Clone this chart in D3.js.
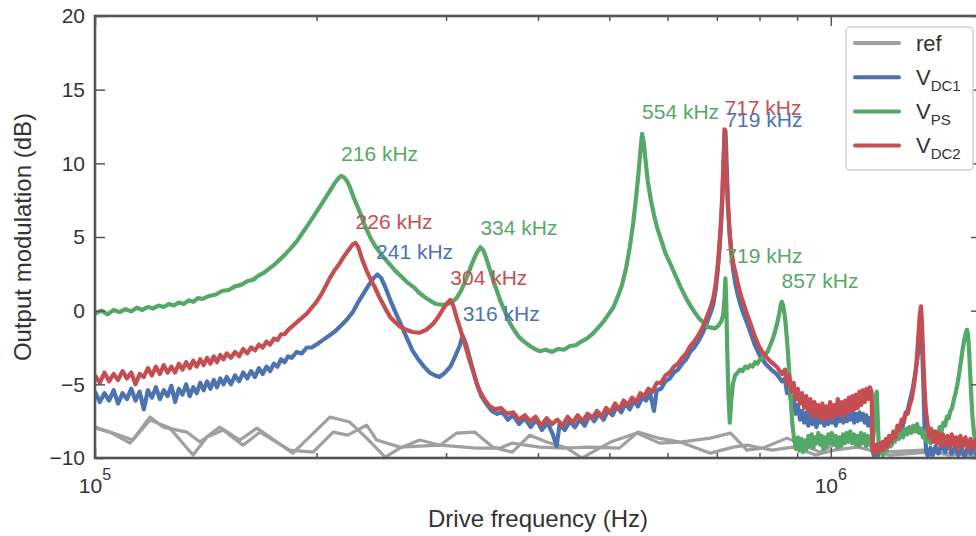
<!DOCTYPE html>
<html>
<head>
<meta charset="UTF-8">
<title>Output modulation</title>
<script src="https://cdn.jsdelivr.net/npm/d3@7"></script>
<style>
  body { margin: 0; background: #fff; }
  text { font-family: "Liberation Sans", Arial, sans-serif; }
</style>
</head>
<body>
<svg id="chart"></svg>
<script>
// [frequency kHz, dB]
var refA = [[100,-7.9],[104.8,-8.24],[111.6,-8.99],[118.8,-7.22],[123.7,-7.9],[133.3,-8.24],[138.9,-8.92],[147.7,-7.9],[157.4,-8.78],[166,-7.97],[176.7,-8.92],[185.7,-9.67],[208.6,-7.22],[221.9,-7.56],[234,-8.65],[248,-9.94],[259.6,-9.33],[276.3,-8.78],[294.4,-9.13],[310,-8.31],[328,-8.24],[347,-9.26],[369,-9.6],[390,-8.45],[411,-8.92],[438,-9.33],[459,-10.0],[502,-8.92],[545,-8.31],[585,-8.99],[624,-8.92],[686,-8.65],[731,-8.31],[769,-9.47],[808,-9.33],[872,-8.65],[967,-9.6],[1009,-9.13],[1088,-8.65],[1166,-9.6],[1333,-9.47],[1451,-9.8],[1600,-9.6]];
var refB = [[100,-7.97],[105.8,-8.31],[112.6,-8.78],[118.8,-7.42],[126.4,-7.97],[135.9,-9.8],[142,-8.58],[149.3,-8.1],[158.9,-9.13],[167.6,-8.24],[183.9,-9.47],[197.9,-9.6],[210.7,-8.24],[220.5,-8.45],[234,-7.77],[241.5,-8.78],[259.6,-9.26],[294.4,-9.13],[330,-9.33],[355,-9.33],[369,-8.99],[402,-9.26],[433,-9.33],[470,-9.26],[516,-9.33],[547,-8.24],[583,-8.65],[624,-8.92],[686,-9.67],[737,-9.26],[769,-9.13],[832,-9.47],[888,-9.26],[954,-9.8],[1009,-9.47],[1088,-9.26],[1201,-9.8],[1360,-9.6],[1600,-9.87]];

var vdc1 = [[100,-5.5],[101.5,-6.2],[103,-5.6],[104.5,-6.1],[106,-5.4],[107.5,-6.3],[109,-5.6],[110.5,-6.0],[112,-5.3],[113.5,-6.1],[115,-5.5],[116.5,-6.7],[118,-5.4],[119.5,-5.9],[121,-5.2],[122.5,-6.0],[124,-5.4],[125.5,-5.8],[127,-5.1],[128.5,-6.2],[130,-5.3],[131.5,-5.7],[133,-5.0],[134.5,-5.8],[136,-5.2],[137.5,-5.6],[139,-4.9],[140.5,-5.4],[142,-4.8],[143.5,-5.3],[145,-4.7],[146.5,-5.2],[148,-4.6],[149.5,-5.0],[151,-4.5],[153,-5.0],[155,-4.4],[157,-4.8],[159,-4.2],[161,-4.6],[163,-4.1],[165,-4.5],[167,-3.9],[169,-4.3],[171,-3.8],[173,-4.1],[175,-3.6],[177,-3.8],[179,-3.3],[181,-3.5],[183,-3.1],[185,-3.2],[188,-2.8],[191,-2.9],[194,-2.5],[197,-2.5],[200,-2.3],[204,-2.0],[208,-1.7],[212,-1.4],[216,-1.0],[220,-0.6],[224,-0.1],[228,0.6],[232,1.2],[236,1.8],[239,2.2],[242,2.45],[245,2.2],[248,1.6],[252,0.7],[256,-0.1],[260,-0.85],[265,-1.8],[270,-2.7],[275,-3.3],[280,-3.8],[285,-4.2],[290,-4.4],[294,-4.5],[299,-4.2],[304,-3.8],[308,-3.2],[313,-2.4],[316,-1.7],[319,-2.2],[323,-3.2],[327,-4.2],[331,-5.1],[335,-5.8],[340,-6.3],[346,-6.8],[352,-7.0],[358,-6.9],[364,-7.4],[370,-7.1],[377,-7.7],[384,-7.3],[391,-7.9],[398,-7.4],[405,-8.1],[412,-7.6],[419,-8.4],[424,-9.2],[428,-7.7],[435,-8.1],[442,-7.5],[449,-7.9],[456,-7.4],[463,-7.8],[470,-7.1],[477,-7.5],[484,-7.0],[491,-7.4],[498,-6.8],[505,-7.1],[512,-6.5],[519,-6.9],[526,-6.3],[533,-6.7],[540,-6.1],[547,-6.5],[554,-5.9],[561,-6.1],[568,-5.6],[575,-6.8],[580,-5.4],[588,-5.3],[596,-4.8],[604,-4.6],[612,-4.2],[620,-4.0],[628,-3.6],[636,-3.3],[644,-2.8],[652,-2.5],[660,-2.1],[667,-1.7],[674,-1.2],[681,-0.6],[687,-0.1],[692,0.4],[697,1.3],[701,2.4],[705,3.8],[709,5.6],[712,7.4],[714,9.1],[716,10.8],[718,12.0],[719,12.2],[720,11.6],[722,9.8],[725,7.2],[729,5.0],[733,3.7],[737,2.7],[742,1.8],[748,1.0],[755,0.3],[762,-0.3],[769,-0.8],[778,-1.5],[788,-2.3],[800,-3.0],[815,-3.6],[830,-4.0],[844,-4.3],[858,-4.8],[866,-4.6],[872,-5.6],[878,-5.2],[884,-6.3],[890,-5.8],[896,-7.0],[902,-6.4],[908,-7.4],[914,-6.8],[920,-7.6],[926,-6.9],[932,-7.8],[938,-7.0],[944,-7.7],[950,-7.1],[956,-7.9],[962,-7.2],[968,-7.6],[974,-7.0],[980,-7.8],[986,-7.1],[992,-7.7],[998,-7.0],[1004,-7.6],[1010,-7.1],[1016,-7.8],[1022,-7.0],[1028,-7.5],[1034,-6.9],[1040,-7.6],[1046,-7.0],[1052,-7.5],[1058,-6.9],[1064,-7.4],[1070,-6.8],[1076,-7.6],[1082,-7.0],[1088,-7.5],[1094,-6.9],[1100,-7.4],[1106,-7.0],[1112,-7.6],[1118,-7.1],[1124,-7.8],[1130,-7.3],[1136,-7.6],[1140,-9.6],[1146,-9.9],[1152,-9.4],[1160,-9.8],[1168,-9.2],[1176,-9.6],[1184,-9.0],[1192,-9.4],[1200,-8.8],[1210,-9.1],[1220,-8.4],[1230,-8.7],[1240,-7.9],[1250,-8.0],[1260,-7.2],[1270,-6.9],[1281,-6.1],[1292,-5.3],[1302,-4.3],[1310,-3.4],[1316,-2.6],[1321,-2.0],[1326,-1.6],[1331,-2.6],[1336,-5.0],[1341,-7.8],[1348,-9.6],[1356,-9.9],[1366,-9.3],[1376,-9.8],[1388,-9.2],[1400,-9.7],[1415,-9.1],[1430,-9.6],[1445,-9.0],[1460,-9.7],[1475,-9.2],[1490,-9.8],[1505,-9.3],[1520,-9.9],[1535,-9.2],[1550,-9.7],[1565,-9.1],[1580,-9.9],[1600,-9.5]];

var vps = [[100,-0.2],[102,0.0],[104,-0.25],[106,0.05],[108,-0.1],[110,0.1],[112,-0.05],[114,0.2],[116,0.05],[118,0.25],[120,0.15],[122,0.35],[124,0.25],[126,0.45],[128,0.35],[130,0.55],[132,0.45],[134,0.7],[136,0.6],[138,0.85],[140,0.8],[143,1.0],[146,1.1],[149,1.35],[152,1.4],[155,1.65],[158,1.75],[161,2.0],[164,2.1],[167,2.4],[170,2.6],[173,2.9],[176,3.2],[179,3.55],[182,3.9],[185,4.3],[188,4.7],[191,5.2],[194,5.7],[197,6.2],[200,6.7],[203,7.2],[206,7.7],[209,8.2],[212,8.7],[214,8.95],[216,9.15],[218,9.05],[220,8.8],[222,8.4],[225,7.6],[229,6.7],[233,5.7],[237,4.9],[241,4.3],[246,3.7],[251,3.2],[256,2.7],[261,2.3],[266,1.9],[271,1.6],[276,1.2],[281,0.9],[286,0.65],[291,0.45],[296,0.4],[301,0.45],[306,0.6],[310,0.85],[314,1.3],[318,1.9],[322,2.6],[326,3.3],[330,3.9],[334,4.3],[337,4.1],[340,3.6],[344,2.8],[348,2.0],[352,1.3],[356,0.6],[361,-0.1],[366,-0.8],[371,-1.3],[377,-1.8],[383,-2.1],[390,-2.4],[396,-2.6],[402,-2.75],[410,-2.65],[418,-2.8],[426,-2.6],[434,-2.65],[442,-2.4],[450,-2.35],[458,-2.1],[466,-1.9],[474,-1.6],[482,-1.2],[490,-0.8],[498,-0.3],[506,0.2],[513,0.9],[520,1.7],[527,2.9],[533,4.3],[539,6.0],[544,7.8],[548,9.4],[551,10.8],[554,12.0],[557,11.4],[560,10.2],[564,8.8],[569,7.6],[575,6.5],[581,5.6],[588,4.8],[596,3.9],[605,3.2],[615,2.4],[625,1.6],[635,0.9],[645,0.3],[655,-0.2],[664,-0.6],[672,-0.8],[680,-1.1],[688,-1.15],[696,-1.2],[704,-1.0],[710,-0.7],[714,-0.3],[717,0.8],[719,2.2],[721,0.6],[723,-2.5],[726,-5.8],[729,-7.6],[732,-6.2],[736,-5.0],[741,-4.4],[747,-4.2],[753,-4.0],[759,-4.1],[765,-3.8],[771,-3.9],[777,-3.7],[783,-3.8],[789,-3.5],[795,-3.6],[801,-3.3],[808,-3.2],[815,-3.0],[822,-2.7],[828,-2.3],[834,-1.9],[840,-1.4],[846,-0.8],[851,-0.2],[855,0.4],[858,0.6],[862,0.3],[867,-0.6],[872,-2.0],[877,-3.8],[882,-6.0],[887,-7.8],[892,-8.8],[897,-9.4],[902,-8.6],[907,-9.5],[912,-8.7],[917,-9.6],[922,-8.8],[927,-9.4],[932,-8.5],[937,-9.2],[942,-8.4],[947,-9.3],[952,-8.6],[957,-9.0],[962,-8.3],[967,-9.1],[972,-8.5],[977,-9.4],[982,-8.6],[987,-9.2],[992,-8.4],[997,-9.0],[1003,-8.3],[1009,-9.1],[1015,-8.5],[1021,-9.3],[1027,-8.6],[1033,-9.2],[1039,-8.4],[1045,-9.0],[1051,-8.3],[1057,-8.9],[1063,-8.2],[1069,-9.0],[1075,-8.4],[1081,-9.1],[1087,-8.5],[1093,-9.2],[1099,-8.3],[1105,-9.0],[1111,-8.4],[1117,-9.2],[1123,-8.5],[1129,-9.0],[1135,-8.6],[1141,-8.8],[1147,-7.6],[1151,-5.8],[1155,-5.5],[1159,-7.8],[1163,-9.6],[1170,-9.2],[1177,-9.8],[1184,-9.0],[1191,-9.5],[1198,-8.8],[1206,-9.2],[1214,-8.5],[1222,-8.9],[1230,-8.3],[1238,-8.7],[1246,-8.1],[1254,-8.6],[1262,-8.0],[1270,-8.4],[1278,-7.9],[1286,-8.3],[1294,-7.8],[1302,-8.2],[1310,-7.7],[1318,-8.3],[1326,-8.0],[1334,-8.6],[1342,-8.2],[1350,-8.9],[1358,-8.4],[1366,-9.0],[1374,-8.5],[1382,-8.8],[1390,-8.2],[1398,-8.5],[1406,-7.9],[1414,-8.2],[1422,-7.6],[1430,-7.8],[1438,-7.2],[1446,-7.3],[1454,-6.8],[1462,-6.6],[1470,-6.0],[1478,-5.6],[1486,-5.0],[1494,-4.3],[1502,-3.5],[1510,-2.7],[1518,-2.0],[1526,-1.5],[1531,-1.3],[1536,-1.6],[1541,-2.6],[1546,-4.0],[1552,-5.8],[1558,-7.2],[1566,-8.4],[1574,-9.0],[1582,-9.5],[1600,-9.3]];

var vdc2 = [[100,-4.4],[101.5,-4.9],[103,-4.2],[104.5,-4.8],[106,-4.3],[107.5,-4.7],[109,-4.1],[110.5,-4.6],[112,-4.2],[113.5,-5.0],[115,-4.3],[116.5,-4.5],[118,-3.9],[119.5,-4.4],[121,-3.8],[122.5,-4.3],[124,-3.7],[125.5,-4.2],[127,-3.8],[128.5,-4.2],[130,-3.6],[131.5,-4.0],[133,-3.5],[134.5,-3.9],[136,-3.4],[137.5,-3.8],[139,-3.3],[140.5,-3.7],[142,-3.2],[143.5,-3.6],[145,-3.1],[146.5,-3.5],[148,-3.0],[149.5,-3.3],[151,-2.9],[153,-3.2],[155,-2.8],[157,-3.1],[159,-2.6],[161,-2.9],[163,-2.5],[165,-2.7],[167,-2.3],[169,-2.5],[171,-2.1],[173,-2.3],[175,-1.9],[177,-2.0],[179,-1.6],[181,-1.6],[183,-1.3],[185,-1.1],[188,-0.8],[191,-0.5],[194,-0.2],[197,0.2],[200,0.6],[203,1.1],[206,1.7],[209,2.3],[212,2.8],[215,3.2],[218,3.7],[221,4.1],[224,4.5],[226,4.6],[228,4.3],[231,3.4],[234,2.7],[237,2.1],[240,1.6],[243,1.0],[246,0.5],[249,0.0],[252,-0.45],[256,-0.8],[260,-1.1],[265,-1.3],[270,-1.45],[276,-1.5],[282,-1.3],[288,-0.9],[293,-0.4],[297,0.1],[301,0.5],[304,0.72],[307,0.3],[310,-0.45],[313,-1.1],[316,-1.8],[320,-2.7],[323,-3.4],[327,-4.2],[330,-4.9],[333,-5.4],[338,-6.0],[344,-6.5],[350,-6.7],[356,-6.6],[363,-7.0],[370,-6.9],[377,-7.4],[384,-7.1],[390,-7.5],[397,-7.2],[404,-7.8],[411,-7.3],[418,-7.7],[425,-7.4],[432,-7.8],[439,-7.2],[446,-7.6],[453,-7.1],[460,-7.5],[467,-7.0],[474,-7.3],[481,-6.8],[488,-7.2],[495,-6.6],[502,-6.9],[509,-6.3],[516,-6.7],[523,-6.1],[530,-6.4],[537,-5.9],[544,-6.2],[551,-5.6],[558,-5.8],[565,-5.3],[572,-5.5],[580,-4.9],[588,-4.9],[596,-4.4],[604,-4.2],[612,-3.8],[620,-3.6],[628,-3.2],[636,-2.9],[644,-2.4],[652,-2.1],[660,-1.7],[667,-1.3],[674,-0.8],[681,-0.2],[687,0.3],[692,0.8],[697,1.7],[701,2.8],[705,4.2],[709,6.0],[712,7.8],[714,9.5],[716,11.3],[717,12.3],[718,11.8],[720,10.2],[722,8.8],[725,7.0],[729,5.2],[733,4.0],[737,3.2],[742,2.6],[748,1.8],[755,1.0],[762,0.4],[769,-0.2],[778,-0.9],[788,-1.7],[800,-2.5],[815,-3.1],[830,-3.5],[844,-3.8],[858,-4.3],[866,-4.0],[872,-5.0],[878,-4.4],[884,-5.5],[890,-4.9],[896,-6.0],[902,-5.3],[908,-6.3],[914,-5.6],[920,-6.6],[926,-5.8],[932,-6.8],[938,-6.0],[944,-7.2],[950,-6.2],[956,-7.1],[962,-6.4],[968,-7.3],[974,-6.3],[980,-7.4],[986,-6.5],[992,-7.2],[998,-6.2],[1004,-7.3],[1010,-6.4],[1016,-7.1],[1022,-6.0],[1028,-7.0],[1034,-6.2],[1040,-7.2],[1046,-6.1],[1052,-6.9],[1058,-5.9],[1064,-6.8],[1070,-5.8],[1076,-6.7],[1082,-5.7],[1088,-6.6],[1094,-5.5],[1100,-6.4],[1106,-5.4],[1112,-6.2],[1118,-5.3],[1124,-6.0],[1130,-5.2],[1136,-5.5],[1140,-9.3],[1146,-9.7],[1152,-9.1],[1158,-9.6],[1164,-9.0],[1170,-9.5],[1176,-8.9],[1182,-9.4],[1188,-8.7],[1194,-9.2],[1200,-8.5],[1208,-8.9],[1216,-8.2],[1224,-8.6],[1232,-7.8],[1240,-8.1],[1248,-7.4],[1256,-7.6],[1264,-6.9],[1272,-7.0],[1280,-6.4],[1288,-6.0],[1296,-5.2],[1304,-4.2],[1310,-3.0],[1316,-1.5],[1321,-0.3],[1326,0.3],[1330,-0.8],[1335,-3.0],[1340,-5.0],[1346,-6.7],[1353,-7.6],[1360,-8.6],[1368,-8.0],[1376,-8.9],[1384,-8.2],[1392,-9.0],[1400,-8.3],[1410,-9.2],[1420,-8.4],[1430,-9.1],[1440,-8.5],[1450,-9.3],[1460,-8.4],[1470,-9.1],[1480,-8.6],[1490,-9.4],[1500,-8.5],[1512,-9.2],[1524,-8.6],[1536,-9.4],[1548,-8.7],[1560,-9.3],[1572,-8.8],[1584,-9.5],[1600,-8.9]];

// peak labels: [series, frequency kHz, label level dB]
var peakLabels = [
  ["vps", 216, 10.16], ["vdc2", 226, 5.54], ["vdc1", 241, 3.5],
  ["vps", 334, 5.13], ["vdc2", 304, 1.74], ["vdc1", 316, -0.7],
  ["vps", 554, 13.0], ["vdc2", 717, 13.28], ["vdc1", 719, 12.46],
  ["vps", 719, 3.23], ["vps", 857, 1.53]
];

var yTicks = [-10, -5, 0, 5, 10, 15, 20];
var xMajor = [1e5, 1e6];
var xMinor = [2e5, 3e5, 4e5, 5e5, 6e5, 7e5, 8e5, 9e5];

var colors = {ref: "#a0a0a0", vdc1: "#4c72b0", vps: "#55a868", vdc2: "#c44e52"};
var seriesData = {vdc1: vdc1, vps: vps, vdc2: vdc2};

var W = 976, H = 536;
var pLeft = 95, pTop = 16, pRight = 981, pBottom = 458;

var svg = d3.select("#chart").attr("width", W).attr("height", H);

var x = d3.scaleLog().domain([1e5, 1.6e6]).range([pLeft, pRight]);
var y = d3.scaleLinear().domain([-10, 20]).range([pBottom, pTop]);

svg.append("clipPath").attr("id", "clip")
    .append("rect")
    .attr("x", pLeft).attr("y", pTop)
    .attr("width", pRight - pLeft).attr("height", pBottom - pTop);

var line = d3.line()
    .x(function (d) { return x(d[0] * 1000); })
    .y(function (d) { return y(d[1]); });

var plot = svg.append("g").attr("clip-path", "url(#clip)");

[refA, refB].forEach(function (s) {
    plot.append("path").datum(s)
        .attr("d", line)
        .attr("fill", "none")
        .attr("stroke", colors.ref)
        .attr("stroke-width", 3.2)
        .attr("stroke-linejoin", "round");
});

["vdc1", "vps", "vdc2"].forEach(function (k) {
    plot.append("path").datum(seriesData[k])
        .attr("d", line)
        .attr("fill", "none")
        .attr("stroke", colors[k])
        .attr("stroke-width", 4.2)
        .attr("stroke-linejoin", "round");
});

// axes
var axisColor = "#555";
function styleAxis(g) {
    g.select(".domain").remove();
    g.selectAll("line").attr("stroke", axisColor).attr("stroke-width", 1.5);
}

svg.append("g").attr("transform", "translate(" + pLeft + ",0)")
    .call(d3.axisLeft(y).tickValues(yTicks).tickSize(-10).tickPadding(10)
        .tickFormat(function (d) { return d < 0 ? "\u2212" + Math.abs(d) : d; }))
    .call(styleAxis)
    .call(function (g) {
        g.selectAll("text").attr("font-size", 21).attr("fill", "#333")
            .attr("font-family", "Liberation Sans, Arial, sans-serif");
    });

svg.append("g").attr("transform", "translate(" + pRight + ",0)")
    .call(d3.axisRight(y).tickValues(yTicks).tickSize(-10).tickFormat(""))
    .call(styleAxis);

svg.append("g").attr("transform", "translate(0," + pBottom + ")")
    .call(d3.axisBottom(x).tickValues(xMajor).tickSize(-10).tickFormat(""))
    .call(styleAxis);
svg.append("g").attr("transform", "translate(0," + pBottom + ")")
    .call(d3.axisBottom(x).tickValues(xMinor).tickSize(-5).tickFormat(""))
    .call(styleAxis);
svg.append("g").attr("transform", "translate(0," + pTop + ")")
    .call(d3.axisTop(x).tickValues(xMajor).tickSize(-10).tickFormat(""))
    .call(styleAxis);
svg.append("g").attr("transform", "translate(0," + pTop + ")")
    .call(d3.axisTop(x).tickValues(xMinor).tickSize(-5).tickFormat(""))
    .call(styleAxis);

// x tick labels 10^n
xMajor.forEach(function (v) {
    var t = svg.append("text")
        .attr("x", x(v)).attr("y", 493)
        .attr("text-anchor", "middle")
        .attr("fill", "#333")
        .attr("font-size", 21);
    t.append("tspan").text("10");
    t.append("tspan").attr("font-size", 16).attr("dy", -13)
        .text(Math.round(Math.log10(v)));
});

// frame
svg.append("rect")
    .attr("x", pLeft).attr("y", pTop)
    .attr("width", pRight - pLeft).attr("height", pBottom - pTop)
    .attr("fill", "none")
    .attr("stroke", axisColor)
    .attr("stroke-width", 2.6);

// axis labels
svg.append("text")
    .attr("x", (pLeft + pRight) / 2).attr("y", 527)
    .attr("text-anchor", "middle")
    .attr("font-size", 24).attr("fill", "#333")
    .text("Drive frequency (Hz)");

svg.append("text")
    .attr("transform", "translate(31," + (pTop + pBottom) / 2 + ") rotate(-90)")
    .attr("text-anchor", "middle")
    .attr("font-size", 24).attr("fill", "#333")
    .text("Output modulation (dB)");

// peak labels
svg.selectAll(".peak").data(peakLabels).enter()
    .append("text")
    .attr("class", "peak")
    .attr("x", function (d) { return x(d[1] * 1000); })
    .attr("y", function (d) { return y(d[2]); })
    .attr("font-size", 21)
    .attr("fill", function (d) { return colors[d[0]]; })
    .text(function (d) { return d[1] + " kHz"; });

// legend
var legendItems = [["ref", "ref", ""], ["vdc1", "V", "DC1"], ["vps", "V", "PS"], ["vdc2", "V", "DC2"]];
var lg = svg.append("g");
lg.append("rect")
    .attr("x", 846).attr("y", 27).attr("width", 127).attr("height", 143)
    .attr("rx", 4)
    .attr("fill", "#fff").attr("fill-opacity", 0.85)
    .attr("stroke", "#d0d0d0").attr("stroke-width", 1.5);
legendItems.forEach(function (d, i) {
    var ly = 43 + i * 34.2;
    lg.append("line")
        .attr("x1", 855).attr("x2", 899).attr("y1", ly).attr("y2", ly)
        .attr("stroke", colors[d[0]]).attr("stroke-width", 4)
        .attr("stroke-linecap", "round");
    var t = lg.append("text").attr("x", 916).attr("y", ly + 7.5)
        .attr("font-size", 22).attr("fill", "#333");
    t.append("tspan").text(d[1]);
    if (d[2]) {
        t.append("tspan").attr("font-size", 15).attr("dy", 6).text(d[2]);
    }
});
</script>
</body>
</html>
